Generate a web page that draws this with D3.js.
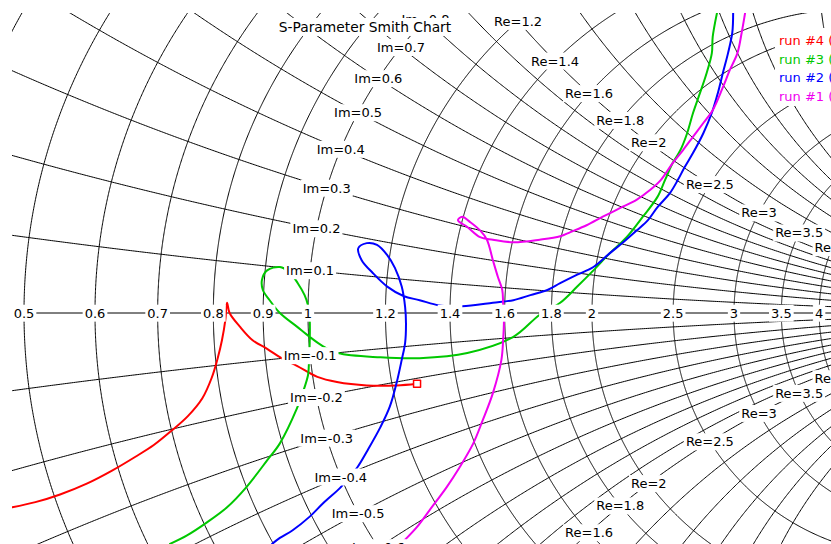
<!DOCTYPE html>
<html><head><meta charset="utf-8">
<script src="https://cdn.jsdelivr.net/npm/d3@7"></script>
<style>html,body{margin:0;padding:0;background:#fff;overflow:hidden}</style>
</head><body>
<svg id="chart" width="831" height="544"></svg>
<script>
// ---------- data ----------
const chartTitle = "S-Parameter Smith Chart";
const resistanceGrid = [0.1,0.2,0.3,0.4,0.5,0.6,0.7,0.8,0.9,1,1.2,1.4,1.6,1.8,2,2.5,3,3.5,4,5,6,7,8,10,15,20,50];
const reactanceGrid = [0.1,0.2,0.3,0.4,0.5,0.6,0.7,0.8,0.9,1,1.2,1.4,1.6,1.8,2,2.5,3,3.5,4,5,7,10,20,50];
const realAxisTicks = [0.5,0.6,0.7,0.8,0.9,1,1.2,1.4,1.6,1.8,2,2.5,3,3.5,4,5];
const imTicks = [0.1,0.2,0.3,0.4,0.5,0.6,0.7,0.8,0.9,1,-0.1,-0.2,-0.3,-0.4,-0.5,-0.6,-0.7,-0.8,-0.9,-1];
const reTicks = [1.2,1.4,1.6,1.8,2,2.5,3,3.5,4,5];
const seriesNames = ["run #4 (", "run #3 (", "run #2 (", "run #1 ("];
const seriesColors = ["#ff0000", "#00c800", "#0000ff", "#f000f0"];

// reflection coefficient (real, imag) of each run
const run4Re = [-0.347,-0.320,-0.291,-0.259,-0.230,-0.203,-0.181,-0.160,-0.141,-0.124,-0.113,-0.106,-0.101,-0.097,-0.095,-0.092,-0.080,-0.065,-0.048,-0.031,-0.013,0.011,0.034,0.069,0.104,0.128];
const run4Im = [-0.228,-0.222,-0.213,-0.200,-0.185,-0.169,-0.155,-0.138,-0.121,-0.100,-0.076,-0.053,-0.032,-0.008,0.012,0.000,-0.016,-0.032,-0.042,-0.053,-0.062,-0.075,-0.081,-0.085,-0.085,-0.083];

const run3Re = [0.480,0.475,0.474,0.468,0.460,0.452,0.445,0.437,0.428,0.419,0.410,0.393,0.374,0.354,0.335,0.316,0.296,0.272,0.241,0.187,0.131,0.085,0.035,0.016,0.002,-0.013,-0.033,-0.045,-0.053,-0.054,-0.048,-0.033,-0.021,-0.012,-0.004,0.000,0.002,0.002,0.001,0.000,-0.006,-0.013,-0.033,-0.048,-0.072,-0.095,-0.119,-0.142,-0.162];
const run3Im = [0.352,0.324,0.305,0.282,0.258,0.235,0.211,0.191,0.176,0.156,0.136,0.113,0.089,0.070,0.050,0.031,0.012,-0.002,-0.028,-0.047,-0.053,-0.052,-0.047,-0.038,-0.028,-0.016,0.000,0.015,0.027,0.039,0.050,0.054,0.047,0.035,0.021,0.009,-0.008,-0.035,-0.061,-0.073,-0.093,-0.112,-0.153,-0.173,-0.204,-0.228,-0.246,-0.261,-0.271];

const run2Re = [0.499,0.498,0.493,0.487,0.481,0.474,0.464,0.452,0.442,0.434,0.425,0.410,0.399,0.386,0.370,0.354,0.335,0.316,0.296,0.281,0.261,0.241,0.217,0.181,0.163,0.153,0.131,0.112,0.093,0.076,0.063,0.059,0.069,0.081,0.093,0.102,0.110,0.114,0.115,0.114,0.110,0.104,0.096,0.085,0.070,0.058,0.047,0.038,0.018,0.002,-0.018,-0.033,-0.042];
const run2Im = [0.352,0.329,0.305,0.282,0.258,0.235,0.211,0.188,0.171,0.156,0.141,0.124,0.109,0.097,0.083,0.070,0.054,0.045,0.035,0.027,0.021,0.015,0.012,0.008,0.008,0.009,0.015,0.020,0.031,0.047,0.062,0.076,0.082,0.080,0.068,0.053,0.031,0.007,-0.012,-0.035,-0.055,-0.082,-0.110,-0.134,-0.161,-0.181,-0.194,-0.205,-0.223,-0.239,-0.255,-0.264,-0.271];

const run1Re = [0.513,0.509,0.504,0.495,0.487,0.475,0.464,0.452,0.440,0.428,0.414,0.401,0.386,0.366,0.346,0.327,0.308,0.296,0.272,0.241,0.217,0.202,0.187,0.176,0.181,0.190,0.202,0.210,0.217,0.223,0.228,0.229,0.230,0.229,0.227,0.217,0.205,0.194,0.178,0.163,0.143,0.128,0.114,0.109];
const run1Im = [0.352,0.329,0.305,0.285,0.265,0.238,0.223,0.207,0.191,0.176,0.156,0.144,0.133,0.123,0.113,0.103,0.095,0.090,0.086,0.083,0.086,0.089,0.101,0.109,0.113,0.107,0.097,0.086,0.062,0.042,0.027,0.012,-0.008,-0.032,-0.055,-0.094,-0.126,-0.153,-0.181,-0.204,-0.231,-0.251,-0.266,-0.271];

const runs = [
  {re: run4Re, im: run4Im, marker: true},
  {re: run3Re, im: run3Im},
  {re: run2Re, im: run2Im},
  {re: run1Re, im: run1Im}
];

// ---------- layout ----------
const W = 831, H = 544;
const svg = d3.select("#chart");
svg.append("rect").attr("width", W).attr("height", H).attr("fill", "#fff");
// unit circle of the reflection coefficient maps to radius 852 px around (308,313)
const xS = d3.scaleLinear().domain([-1, 1]).range([308 - 852, 308 + 852]);
const yS = d3.scaleLinear().domain([-1, 1]).range([313 + 852, 313 - 852]);
const FONT = "DejaVu Sans";

svg.append("clipPath").attr("id", "plotclip")
  .append("rect").attr("x", 12).attr("y", 13).attr("width", W).attr("height", H);

const plot = svg.append("g").attr("clip-path", "url(#plotclip)");

function gammaOf(a, b) { // z = a + jb
  const d = (a + 1) * (a + 1) + b * b;
  return [(a * a + b * b - 1) / d, 2 * b / d];
}
const line = d3.line().x(d => xS(d[0])).y(d => yS(d[1]));
const smooth = d3.line().x(d => xS(d[0])).y(d => yS(d[1])).curve(d3.curveCatmullRom.alpha(0.5));

const gridG = plot.append("g").attr("fill", "none").attr("stroke", "#000").attr("stroke-width", 1);
resistanceGrid.forEach(r => {
  const pts = d3.range(-1.5699, 1.57, 0.002).map(p => gammaOf(r, Math.tan(p)));
  gridG.append("path").attr("d", line(pts));
});
reactanceGrid.forEach(x => {
  [x, -x].forEach(xx => {
    const pts = d3.range(0, 1.5699, 0.002).map(p => gammaOf(Math.tan(p), xx));
    gridG.append("path").attr("d", line(pts));
  });
});
gridG.append("path").attr("d", line([[-1, 0], [1, 0]]));

// data curves
const curveG = plot.append("g").attr("fill", "none").attr("stroke-width", 2).attr("stroke-linejoin", "round").attr("stroke-linecap", "round");
runs.forEach((s, i) => {
  const pts = s.re.map((v, k) => [v, s.im[k]]);
  curveG.append("path").attr("d", smooth(pts)).attr("stroke", seriesColors[i]);
  if (s.marker) {
    const last = pts[pts.length - 1];
    curveG.append("rect").attr("x", xS(last[0]) - 3.5).attr("y", yS(last[1]) - 3.5)
      .attr("width", 7).attr("height", 7).attr("fill", "#fff").attr("stroke", seriesColors[i]).attr("stroke-width", 1.5);
  }
});

// labels with white boxes
const labelG = plot.append("g");
function boxLabel(g, txt, px, py, size, color) {
  const gg = g.append("g");
  const t = gg.append("text").attr("x", px).attr("y", py).attr("text-anchor", "middle")
    .attr("dy", "0.36em").attr("font-family", FONT).attr("font-size", size).attr("fill", color || "#000").text(txt);
  const bb = t.node().getBBox();
  gg.insert("rect", "text").attr("x", bb.x - 2).attr("y", bb.y - 1).attr("width", bb.width + 4).attr("height", bb.height + 2).attr("fill", "#fff");
}
const fmt = v => String(v);
realAxisTicks.forEach(r => {
  const g = gammaOf(r, 0);
  boxLabel(labelG, fmt(r), xS(g[0]), yS(0), 13);
});
imTicks.forEach(x => {
  const g = gammaOf(1, x);
  boxLabel(labelG, "Im=" + fmt(x), xS(g[0]), yS(g[1]), 13);
});
reTicks.forEach(r => {
  [1, -1].forEach(x => {
    const g = gammaOf(r, x);
    boxLabel(labelG, "Re=" + fmt(r), xS(g[0]), yS(g[1]), 13);
  });
});

// title
boxLabel(svg, chartTitle, 365, 27, 13.8);

// legend
const legG = svg.append("g");
legG.append("rect").attr("x", 775).attr("y", 28).attr("width", 60).attr("height", 78).attr("fill", "#fff");
seriesNames.forEach((n, i) => {
  legG.append("text").attr("x", 779).attr("y", 45 + i * 18.5).attr("font-family", FONT).attr("font-size", 13)
    .attr("fill", seriesColors[i]).text(n);
});
</script>
</body></html>
